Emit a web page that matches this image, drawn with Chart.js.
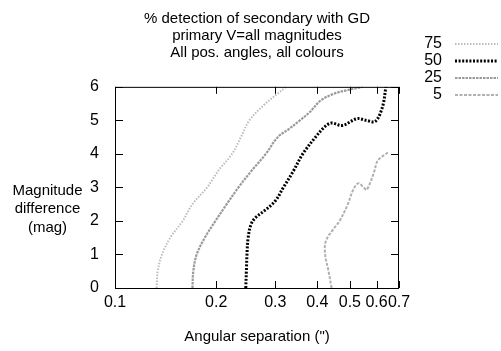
<!DOCTYPE html>
<html lang="en">
<head>
  <meta charset="UTF-8">
  <title>% detection of secondary with GD</title>
  <style>
    body { margin: 0; background: #fff; }
    #chart { display: block; }
  </style>
</head>
<body>
  <canvas id="chart" width="501" height="351"></canvas>

  <script src="https://cdn.jsdelivr.net/npm/chart.js"></script>
  <script>
    // data: separation (") and magnitude difference along each contour
    const sep75 = [0.133, 0.134, 0.138, 0.146, 0.159, 0.170, 0.188, 0.203, 0.223, 0.237, 0.251, 0.277, 0.305, 0.323];
    const mag75 = [0, 0.5, 1, 1.5, 2, 2.5, 3, 3.5, 4, 4.5, 5, 5.45, 5.8, 6];

    const sep50 = [0.245, 0.246, 0.247, 0.249, 0.254, 0.262, 0.278, 0.300, 0.317, 0.340, 0.362, 0.395, 0.420, 0.440, 0.475, 0.525, 0.560, 0.595, 0.625, 0.640];
    const mag50 = [0, 0.5, 1, 1.5, 1.9, 2.1, 2.3, 2.6, 3.0, 3.5, 4.0, 4.5, 4.8, 4.92, 4.85, 5.05, 5.0, 4.97, 5.4, 6];

    const sep25 = [0.170, 0.171, 0.175, 0.185, 0.199, 0.215, 0.233, 0.255, 0.281, 0.305, 0.330, 0.355, 0.380, 0.410, 0.450, 0.490, 0.545];
    const mag25 = [0, 0.5, 1, 1.5, 2, 2.5, 3, 3.5, 4, 4.5, 4.75, 5, 5.25, 5.6, 5.8, 5.9, 6];

    const sep5 = [0.441, 0.432, 0.422, 0.424, 0.446, 0.466, 0.493, 0.510, 0.529, 0.550, 0.560, 0.575, 0.592, 0.605, 0.650];
    const mag5 = [0, 0.5, 1, 1.4, 1.75, 2.0, 2.5, 2.9, 3.12, 3.0, 2.93, 3.15, 3.5, 3.8, 4.05];

    const xTicks = [0.1, 0.2, 0.3, 0.4, 0.5, 0.6, 0.7];
    const xTickLabels = ['0.1', '0.2', '0.3', '0.4', '0.5', '0.6', '0.7'];
    const yTicks = [0, 1, 2, 3, 4, 5, 6];

    const pts = (xs, ys) => xs.map((x, i) => ({ x: x, y: ys[i] }));

    Chart.defaults.font.family = "'Liberation Sans', Arial, sans-serif";
    Chart.defaults.color = '#000';

    // box, inward ticks, y title and legend
    const frame = {
      id: 'frame',
      afterDraw(chart) {
        const { ctx, chartArea: a, scales } = chart;
        ctx.save();
        ctx.strokeStyle = '#000';
        ctx.lineWidth = 1;
        ctx.setLineDash([]);
        ctx.strokeRect(a.left + 0.5, a.top + 0.5, a.right - a.left - 1, a.bottom - a.top);
        ctx.beginPath();
        xTicks.forEach(v => {
          const x = Math.round(scales.x.getPixelForValue(v)) + 0.5;
          ctx.moveTo(x, a.bottom); ctx.lineTo(x, a.bottom - 7);
          ctx.moveTo(x, a.top); ctx.lineTo(x, a.top + 7);
        });
        yTicks.forEach(v => {
          const y = Math.round(scales.y.getPixelForValue(v)) + 0.5;
          ctx.moveTo(a.left, y); ctx.lineTo(a.left + 8, y);
          ctx.moveTo(a.right, y); ctx.lineTo(a.right - 8, y);
        });
        ctx.stroke();

        ctx.fillStyle = '#000';
        ctx.font = "15px 'Liberation Sans', Arial, sans-serif";
        ctx.textAlign = 'center';
        ctx.textBaseline = 'alphabetic';
        ['Magnitude', 'difference', '(mag)'].forEach((t, i) => ctx.fillText(t, 47.5, 195 + i * 18.3));

        ctx.font = "16px 'Liberation Sans', Arial, sans-serif";
        ctx.textBaseline = 'middle';
        chart.data.datasets.forEach((ds, i) => {
          const y = 44 + i * 17;
          ctx.textAlign = 'right';
          ctx.fillStyle = '#000';
          ctx.fillText(ds.label, 442, y);
          ctx.strokeStyle = ds.borderColor;
          ctx.lineWidth = ds.borderWidth;
          ctx.setLineDash(ds.borderDash);
          ctx.beginPath();
          ctx.moveTo(455, y); ctx.lineTo(498, y);
          ctx.stroke();
        });
        ctx.restore();
      }
    };

    new Chart(document.getElementById('chart'), {
      type: 'line',
      data: {
        datasets: [
          { label: '75', data: pts(sep75, mag75), borderColor: '#bdbdbd', borderWidth: 2, borderDash: [1.5, 1.5] },
          { label: '50', data: pts(sep50, mag50), borderColor: '#000', borderWidth: 3, borderDash: [2, 1.6] },
          { label: '25', data: pts(sep25, mag25), borderColor: '#9a9a9a', borderWidth: 2.2, borderDash: [2.5, 1] },
          { label: '5', data: pts(sep5, mag5), borderColor: '#b0b0b0', borderWidth: 2, borderDash: [3, 1.5] }
        ]
      },
      options: {
        responsive: false,
        animation: false,
        layout: { padding: { left: 0, right: 102, top: 0, bottom: 0 } },
        elements: { point: { radius: 0 }, line: { tension: 0.35, fill: false } },
        plugins: {
          legend: { display: false },
          tooltip: { enabled: false },
          title: {
            display: true,
            fullSize: false,
            text: ['% detection of secondary with GD', 'primary V=all magnitudes', 'All pos. angles, all colours'],
            font: { size: 15, weight: 'normal', lineHeight: 1.13 },
            padding: { top: 10, bottom: 26 }
          }
        },
        scales: {
          x: {
            type: 'logarithmic',
            min: 0.1, max: 0.7,
            grid: { display: false, drawTicks: false },
            border: { display: false },
            afterBuildTicks: s => { s.ticks = xTicks.map(v => ({ value: v })); },
            afterFit: s => { s.height = 63; },
            ticks: {
              autoSkip: false, maxRotation: 0, minRotation: 0, padding: 5,
              font: { size: 16 },
              callback: (v, i) => xTickLabels[i]
            },
            title: { display: true, text: 'Angular separation (")', font: { size: 15 }, padding: { top: 4, bottom: 5 } }
          },
          y: {
            min: 0, max: 6,
            grid: { display: false, drawTicks: false },
            border: { display: false },
            afterBuildTicks: s => { s.ticks = yTicks.map(v => ({ value: v })); },
            afterFit: s => { s.width = 115; },
            ticks: { padding: 16, font: { size: 16 } }
          }
        }
      },
      plugins: [frame]
    });
  </script>
</body>
</html>
